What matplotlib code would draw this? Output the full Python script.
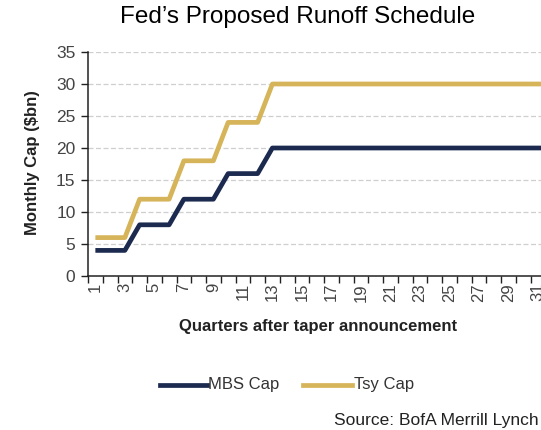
import matplotlib
matplotlib.use("Agg")
import matplotlib.pyplot as plt
import numpy as np

quarters = list(range(1, 33))
mbs_cap = [4, 4, 4, 8, 8, 8, 12, 12, 12, 16, 16, 16] + [20] * 20
tsy_cap = [6, 6, 6, 12, 12, 12, 18, 18, 18, 24, 24, 24] + [30] * 20
y_ticks = [0, 5, 10, 15, 20, 25, 30, 35]
x_labels = [str(q) for q in quarters[::2]]

navy = "#1b2a4e"
gold = "#d6b459"
plt.rcParams["font.family"] = ["Liberation Sans", "DejaVu Sans"]

fig = plt.figure(figsize=(5.41, 4.30), dpi=100)
# plot area runs past the right edge of the figure
ax = fig.add_axes([88 / 541, 154 / 430, 472 / 541, 224 / 430])

ax.plot(quarters, mbs_cap, color=navy, lw=3.4, solid_capstyle="butt", zorder=3)
ax.plot(quarters, tsy_cap, color=gold, lw=3.4, solid_capstyle="butt", zorder=3)

ax.set_xlim(0.5, 32.5)
ax.set_ylim(0, 35)
ax.set_yticks(y_ticks)
ax.set_yticklabels([str(v) for v in y_ticks], fontsize=12.5, color="#444444")
for v in y_ticks[1:]:
    ax.axhline(v, color="#cfcfcf", lw=0.9, ls=(0, (4, 2)), zorder=1)

ax.set_xticks(quarters[::2])
ax.set_xticklabels(x_labels, rotation=90, fontsize=12, color="#444444")
ax.tick_params(axis="x", length=0, pad=5)
ax.set_xticks(np.arange(0.5, 33, 1), minor=True)
ax.tick_params(axis="x", which="minor", length=5, width=1, direction="out", color="#222222")
ax.tick_params(axis="y", length=5, width=1, direction="out", color="#222222", pad=4)

for side in ("top", "right"):
    ax.spines[side].set_visible(False)
for side in ("left", "bottom"):
    ax.spines[side].set_color("#222222")
    ax.spines[side].set_linewidth(1.1)

fig.text(298 / 541, 1 - 17 / 430, "Fed\u2019s Proposed Runoff Schedule", ha="center", va="center",
         fontsize=17.5, color="black")
fig.text(33 / 541, 1 - 163 / 430, "Monthly Cap ($bn)", rotation=90, ha="center", va="center",
         fontsize=12, fontweight="bold", color="#222222")
fig.text(318 / 541, 1 - 327 / 430, "Quarters after taper announcement", ha="center", va="center",
         fontsize=12, fontweight="bold", color="#222222")

# legend drawn by hand in figure coords
fig.lines.append(plt.Line2D([160 / 541, 207 / 541], [1 - 385 / 430] * 2, color=navy, lw=3.4,
                            transform=fig.transFigure))
fig.text(208 / 541, 1 - 385 / 430, "MBS Cap", ha="left", va="center", fontsize=12,
         color="#333333")
fig.lines.append(plt.Line2D([303 / 541, 352 / 541], [1 - 385 / 430] * 2, color=gold, lw=3.4,
                            transform=fig.transFigure))
fig.text(354 / 541, 1 - 385 / 430, "Tsy Cap", ha="left", va="center", fontsize=12,
         color="#333333")

fig.text(539 / 541, 1 - 420 / 430, "Source: BofA Merrill Lynch", ha="right", va="center",
         fontsize=12.5, color="#222222")

fig.savefig("out.png", dpi=100)
